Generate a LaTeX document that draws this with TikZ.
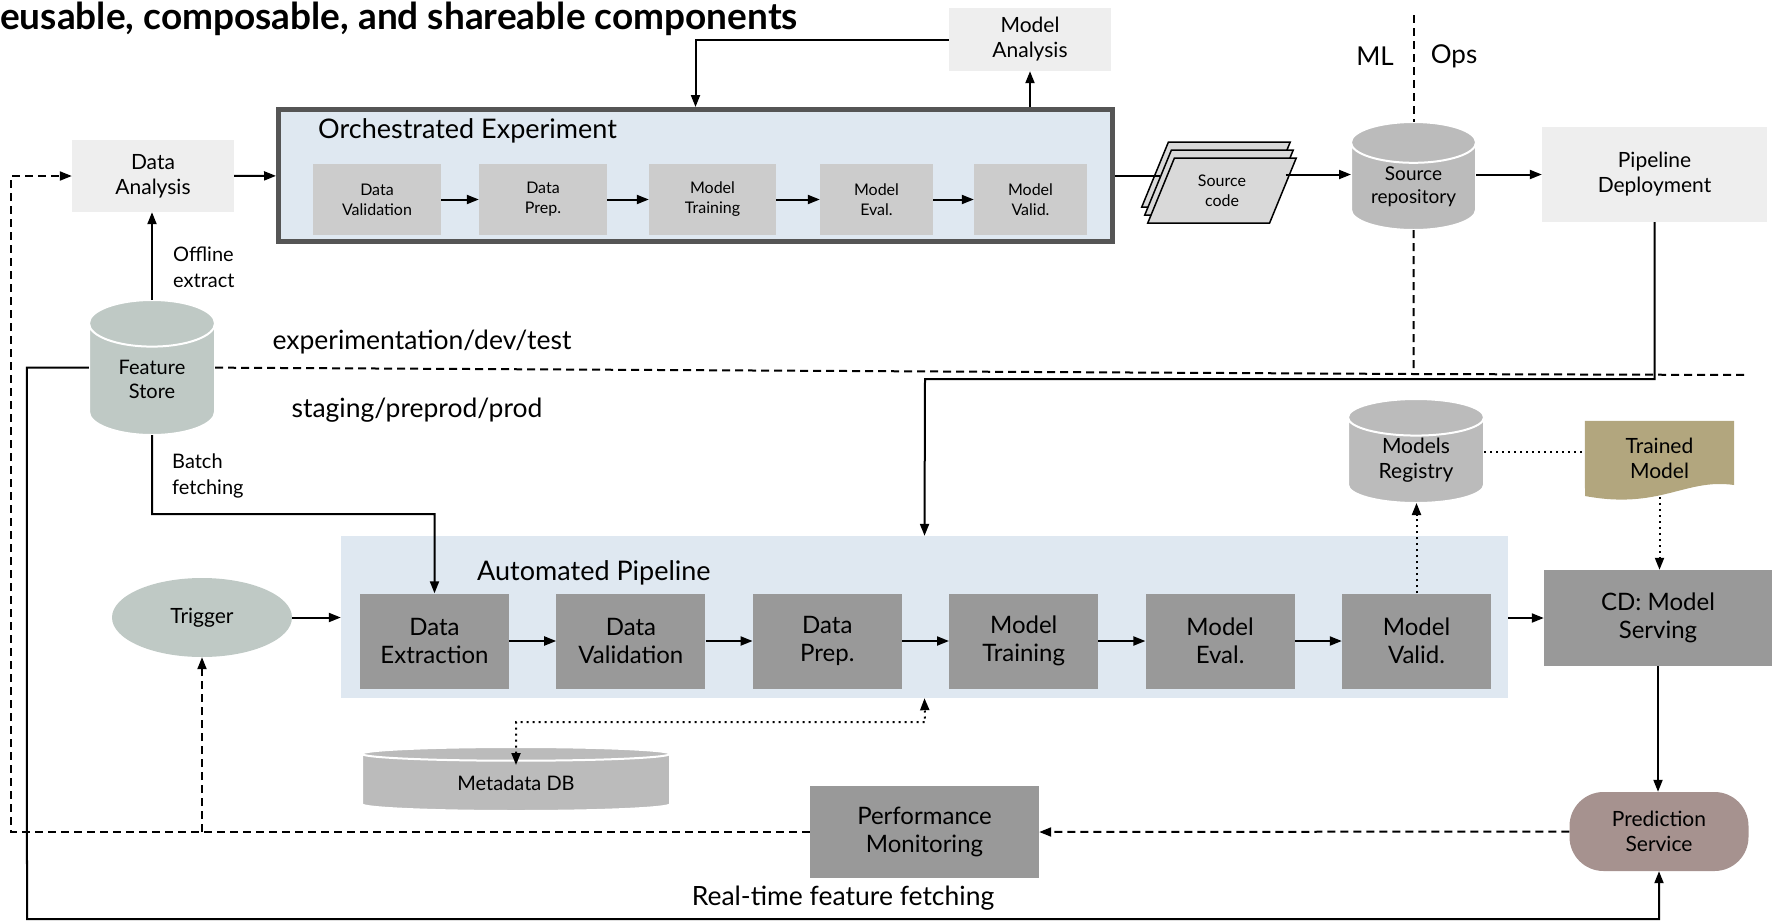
\documentclass[tikz,border=0pt]{standalone}
\usepackage{fontspec}
\setmainfont{Lato}
\definecolor{mlpale}{HTML}{EEEEEE}
\definecolor{mllight}{HTML}{CCCCCC}
\definecolor{mlsrc}{HTML}{D9D9D9}
\definecolor{mlmid}{HTML}{999999}
\definecolor{mldb}{HTML}{BBBBBB}
\definecolor{mlsage}{HTML}{BFC9C5}
\definecolor{mlblue}{HTML}{DFE8F1}
\definecolor{mlframe}{HTML}{555555}
\definecolor{mltan}{HTML}{B2A67E}
\definecolor{mlmauve}{HTML}{A6928F}
\usepackage{tikz}
\usetikzlibrary{arrows.meta, positioning, shapes.geometric, calc, shadows, backgrounds}

\begin{document}
\begin{tikzpicture}[x=1pt, y=-1pt,
  soft/.style={rectangle, fill=mlpale, align=center, inner sep=0pt,
               font=\fontsize{21}{25}\selectfont},
  expstep/.style={rectangle, fill=mllight, minimum height=71pt, align=center,
               inner sep=0pt, font=\fontsize{16}{20}\selectfont},
  pipestep/.style={rectangle, fill=mlmid, minimum width=149pt, minimum height=95pt,
               align=center, inner sep=0pt, font=\fontsize{24}{28}\selectfont},
  store/.style={cylinder, shape border rotate=90, draw=white, line width=2pt,
               cylinder uses custom fill, cylinder body fill=#1, cylinder end fill=#1,
               anchor=north, align=center, inner sep=0pt, outer sep=0pt,
               font=\fontsize{20}{24}\selectfont},
  store/.default=mldb,
  lbl/.style={align=left, inner sep=0pt, font=\fontsize{20}{26}\selectfont},
  zone/.style={inner sep=0pt, font=\fontsize{26.5}{30}\selectfont},
  wire/.style={line width=2pt},
  flow/.style={wire, -{Triangle[length=12pt,width=9pt]}},
  dashflow/.style={flow, dash pattern=on 8pt off 5pt},
  dotflow/.style={flow, dash pattern=on 2pt off 4pt},
  dotboth/.style={wire, dash pattern=on 2pt off 4pt,
               {Triangle[length=12pt,width=9pt]}-{Triangle[length=12pt,width=9pt]}},
]
  \useasboundingbox (0,0) rectangle (1772,921);

  \node[anchor=base west, inner sep=0pt, font=\fontsize{37}{42}\selectfont\bfseries]
    (title) at (0,29) {eusable, composable, and shareable components};

  \node[soft, minimum width=162pt, minimum height=63pt] (ma) at (1030,39.5) {Model\\Analysis};
  \node[soft, minimum width=162pt, minimum height=72pt] (da) at (153,176) {Data\\Analysis};

  \node[rectangle, draw=mlframe, line width=5pt, fill=mlblue,
        minimum width=834pt, minimum height=132pt] (exp) at (695.5,175.5) {};
  \node[zone, anchor=west, font=\fontsize{27}{30}\selectfont] (exptitle) at (318,131)
    {Orchestrated Experiment};
  \node[expstep, minimum width=128pt] (e1) at (377,199.5) {Data\\Validation};
  \node[expstep, minimum width=128pt] (e2) at (543,199.5) {Data\\Prep.};
  \node[expstep, minimum width=127pt] (e3) at (712.5,199.5) {Model\\Training};
  \node[expstep, minimum width=113pt] (e4) at (876.5,199.5) {Model\\Eval.};
  \node[expstep, minimum width=113pt] (e5) at (1030.5,199.5) {Model\\Valid.};
  \draw[flow] (e1) -- (e2);
  \draw[flow] (e2) -- (e3);
  \draw[flow] (e3) -- (e4);
  \draw[flow] (e4) -- (e5);

  \node[trapezium, trapezium left angle=67, trapezium right angle=113,
        trapezium stretches=true, minimum width=149pt, minimum height=65pt,
        fill=mlsrc, draw=black, line width=1.5pt, inner sep=0pt,
        double copy shadow={shadow xshift=-3pt, shadow yshift=8pt,
                            fill=mlsrc, draw=black, line width=1.5pt},
        align=center, font=\fontsize{16}{20}\selectfont] (src) at (1222,190.5) {Source\\code};
  \node[store, minimum width=125pt, minimum height=108pt, aspect=0.48,
        font=\fontsize{19}{23}\selectfont] (repo) at (1413.5,122) {Source\\repository};
  \node[soft, minimum width=225pt, minimum height=95pt] (pd) at (1654.5,174.5) {Pipeline\\Deployment};

  \node[zone, font=\fontsize{26}{30}\selectfont] (ml) at (1375,56) {ML};
  \node[zone, font=\fontsize{26}{30}\selectfont] (ops) at (1454,56) {Ops};
  \coordinate (mltop) at (1413.5,15);
  \coordinate (cut) at (1413.5,374);
  \coordinate (cutend) at (1747,375);

  \node[store=mlsage, minimum width=126pt, minimum height=135pt, aspect=0.7] (fs) at (152,300)
    {Feature\\Store};
  \node[lbl, anchor=west] (offl) at (173,267) {Offline\\extract};
  \node[lbl, anchor=west] (batch) at (172,476) {Batch\\fetching};
  \node[zone] (dev) at (422,342) {experimentation/dev/test};
  \node[zone] (prod) at (417,410) {staging/preprod/prod};

  \node[rectangle, fill=mlblue, minimum width=1167pt, minimum height=162pt] (ap) at (924.5,617) {};
  \node[zone, anchor=west, font=\fontsize{27}{30}\selectfont] (aptitle) at (477,573)
    {Automated Pipeline};
  \node[pipestep] (d1) at (434.5,641) {Data\\Extraction};
  \node[pipestep, right=47pt of d1] (d2) {Data\\Validation};
  \node[pipestep, right=47pt of d2] (d3) {Data\\Prep.};
  \node[pipestep, right=47pt of d3] (d4) {Model\\Training};
  \node[pipestep, right=47pt of d4] (d5) {Model\\Eval.};
  \node[pipestep, right=47pt of d5] (d6) {Model\\Valid.};
  \draw[flow] (d1) -- (d2);
  \draw[flow] (d2) -- (d3);
  \draw[flow] (d3) -- (d4);
  \draw[flow] (d4) -- (d5);
  \draw[flow] (d5) -- (d6);

  \node[ellipse, fill=mlsage, minimum width=180pt, minimum height=79pt,
        font=\fontsize{21}{25}\selectfont] (trig) at (202,617.5) {Trigger};
  \node[pipestep, minimum width=228pt, minimum height=96pt] (cd) at (1658,618) {CD: Model\\Serving};
  \node[store, minimum width=136pt, minimum height=104pt, aspect=0.49,
        font=\fontsize{21}{25}\selectfont] (mr) at (1416,399) {Models\\Registry};
  \node[rectangle, minimum width=149pt, minimum height=74pt, align=center, inner sep=0pt,
        font=\fontsize{21}{25}\selectfont] (tm) at (1659.5,458) {Trained\\Model};
  \begin{scope}[on background layer]
    \fill[mltan] (tm.north west) -- (tm.north east) -- (1734,485)
      .. controls (1685,478) and (1660,510) .. (1585,496) -- cycle;
  \end{scope}

  \node[store, minimum width=308pt, minimum height=64pt, aspect=0.117] (md) at (516,747) {Metadata DB};
  \node[pipestep, minimum width=229pt, minimum height=92pt] (pm) at (924.5,832)
    {Performance\\Monitoring};
  \node[rectangle, rounded corners=34pt, fill=mlmauve, minimum width=179pt, minimum height=79pt,
        align=center, inner sep=0pt, font=\fontsize{21}{25}\selectfont] (ps) at (1659,831.5)
    {Prediction\\Service};
  \node[zone] (rt) at (843,898) {Real-time feature fetching};

  \draw[flow] (da) -- (exp);
  \draw[flow] (ma.west) -| (exp.north);
  \draw[flow] (exp.north -| ma.south) -- (ma);
  \draw[wire] (exp.east) -- (exp.east -| src.west);
  \draw[flow] ([xshift=2pt]src.east |- pd.west) -- (repo.west |- pd.west);
  \draw[flow] (repo.east |- pd.west) -- (pd.west);
  \draw[wire, dash pattern=on 8pt off 5pt] (mltop) -- (repo.north);
  \draw[wire, dash pattern=on 8pt off 5pt] (repo.south) -- (cut);
  \draw[wire, dash pattern=on 8pt off 5pt] ([yshift=12pt]fs.east) -- (cut) -- (cutend);
  \draw[flow] (pd.south) |- (925,379) -- (ap.north);

  \draw[flow] (fs.north) -- (fs.north |- da.south);
  \draw[flow] (fs.south) -- (152,514) -| (d1.north);
  \draw[flow] ([yshift=12pt]fs.west) -- ++(-62,0) -- (27,919) -| (ps.south);

  \draw[flow] (trig.east) -- (trig.east -| ap.west);
  \draw[flow] (ap.east |- cd.west) -- (cd.west);
  \draw[dotflow] (d6.north) -- (d6.north |- mr.south);
  \draw[wire, dash pattern=on 2pt off 4pt] ([yshift=9pt]mr.east) -- ([yshift=9pt]mr.east -| tm.west);
  \draw[dotflow] ([yshift=-2pt]tm.south) -- (tm.south |- cd.north);
  \draw[flow] (cd.south) -- (cd.south |- ps.north);
  \draw[dotboth] ([yshift=-18pt]md.north) |- (925,722) -- (ap.south);

  \draw[dashflow] (ps.west) -- (pm.east);
  \draw[dashflow] (pm.west) -- (11,832) -- (11,176) -- (da.west);
  \draw[dashflow] (trig.south |- pm.west) -- (trig.south);
\end{tikzpicture}
\end{document}
